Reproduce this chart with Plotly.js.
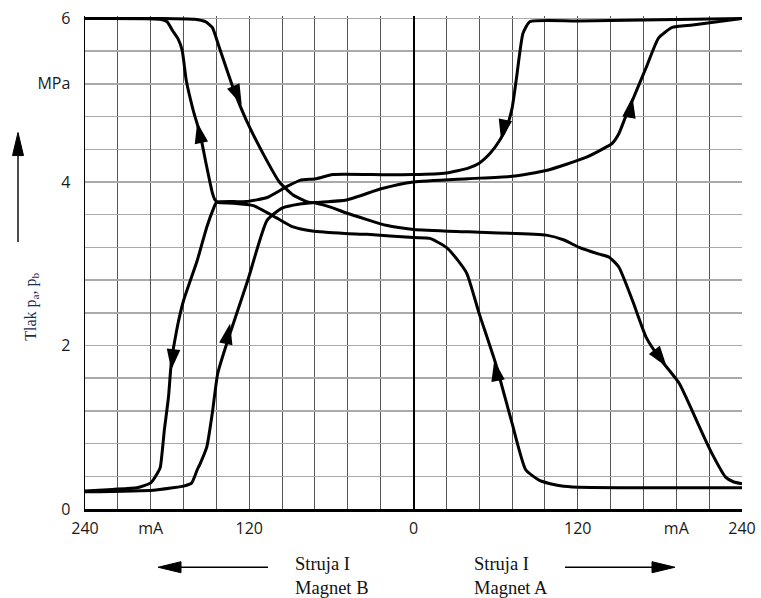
<!DOCTYPE html>
<html>
<head>
<meta charset="utf-8">
<script src="https://cdn.plot.ly/plotly-3.0.1.min.js"></script>
<style>html,body{margin:0;padding:0;background:#fff;}#chart{width:761px;height:598px;}</style>
</head>
<body>
<div id="chart"></div>
<script>
// Current in mA: negative = Magnet B side, positive = Magnet A side
const xTickVals = [-240, -192, -120, 0, 120, 192, 240];
const xTickText = ['240', 'mA', '120', '0', '120', 'mA', '240'];
const yTickVals = [0, 2, 4, 5.2, 6];
const yTickText = ['0', '2', '4', 'MPa', '6'];

// Curve P (starts 6 MPa left, ends low right)
const xP = [-240, -185, -160, -152, -147, -142, -132, -122, -110, -98, -88, -78, -71, -60, -49, -34, -20, 0, 40, 97, 110, 121, 135, 143, 150, 160, 170, 180, 194, 209, 218, 228, 234, 240];
const yP = [6.0, 6.0, 5.99, 5.96, 5.89, 5.65, 5.16, 4.75, 4.35, 4.0, 3.84, 3.76, 3.74, 3.69, 3.62, 3.54, 3.47, 3.42, 3.39, 3.35, 3.29, 3.2, 3.12, 3.08, 2.96, 2.55, 2.1, 1.84, 1.54, 1.0, 0.68, 0.39, 0.33, 0.31];

// Curve Q
const xQ = [-240, -185, -180, -176, -172, -169, -166, -161, -156, -151, -147, -145, -143, -132, -117, -100, -88, -74, -50, -34, 0, 12, 24, 32, 39, 48, 60, 72, 82, 92, 105, 116, 160, 240];
const yQ = [6.0, 5.99, 5.96, 5.85, 5.75, 5.61, 5.24, 4.88, 4.59, 4.18, 3.87, 3.78, 3.75, 3.74, 3.71, 3.56, 3.45, 3.40, 3.37, 3.36, 3.32, 3.31, 3.2, 3.05, 2.88, 2.39, 1.78, 1.05, 0.48, 0.35, 0.29, 0.27, 0.26, 0.26];

// Curve R
const xR = [-240, -220, -202, -192, -187, -185, -182, -179, -177, -173, -168, -158, -151, -146, -144, -132, -122, -107, -93, -83, -71, -59, -30, 0, 24, 40, 48, 56, 63, 68, 72, 75, 80, 85, 120, 240];
const yR = [0.22, 0.24, 0.26, 0.32, 0.44, 0.51, 0.97, 1.37, 1.78, 2.19, 2.55, 3.04, 3.45, 3.68, 3.75, 3.76, 3.76, 3.81, 3.94, 4.02, 4.04, 4.09, 4.09, 4.09, 4.11, 4.17, 4.23, 4.35, 4.51, 4.67, 4.9, 5.24, 5.82, 5.96, 5.97, 6.0];

// Curve S
const xS = [-240, -190, -176, -168, -162, -158, -156, -151, -147, -143, -134, -121, -107, -96, -83, -71, -49, -23, 0, 40, 72, 97, 126, 140, 145, 150, 155, 160, 170, 179, 189, 204, 240];
const yS = [0.21, 0.23, 0.26, 0.28, 0.32, 0.48, 0.55, 0.76, 1.17, 1.66, 2.15, 2.8, 3.53, 3.68, 3.73, 3.75, 3.78, 3.92, 4.0, 4.04, 4.07, 4.14, 4.30, 4.42, 4.47, 4.59, 4.8, 5.0, 5.40, 5.76, 5.89, 5.92, 6.0];

// Direction arrows on curves: tip and a point just behind it
const arrowTipX = [-125.5, -158, -177, -134, 64, 160, 59, 185];
const arrowTipY = [4.94, 4.73, 1.70, 2.27, 4.51, 5.04, 1.82, 1.74];
const arrowBackX = [-135, -154, -175, -138, 67, 157, 62, 178];
const arrowBackY = [5.3, 4.4, 2.0, 1.95, 4.75, 4.75, 1.55, 1.9];

const curveLine = {color: '#000', width: 3, shape: 'spline', smoothing: 0.5};
const traces = [
  {x: xP, y: yP, mode: 'lines', line: curveLine, hoverinfo: 'skip'},
  {x: xQ, y: yQ, mode: 'lines', line: curveLine, hoverinfo: 'skip'},
  {x: xR, y: yR, mode: 'lines', line: curveLine, hoverinfo: 'skip'},
  {x: xS, y: yS, mode: 'lines', line: curveLine, hoverinfo: 'skip'}
];
for (let i = 0; i < arrowTipX.length; i++) {
  traces.push({
    x: [arrowBackX[i], arrowTipX[i]], y: [arrowBackY[i], arrowTipY[i]],
    mode: 'markers', hoverinfo: 'skip', cliponaxis: false,
    marker: {symbol: 'arrow', angleref: 'previous', size: [0, 22], opacity: [0, 1], color: '#000', line: {width: 0}}
  });
}

// Decorative arrows outside the plot (paper coordinates)
const pw = 657, ph = 491; // plot size in px for converting offsets
function px2x(p) { return (p - 85) / pw; }
function py2y(p) { return (509 - p) / ph; }
function arrowShapes(x0, y0, x1, y1) { // tail (x0,y0) -> tip (x1,y1), pixels
  const len = 23, hw = 5.5;
  const dx = x1 - x0, dy = y1 - y0, d = Math.hypot(dx, dy);
  const ux = dx / d, uy = dy / d;
  const bx = x1 - ux * len, by = y1 - uy * len;
  const lx = bx - uy * hw, ly = by + ux * hw, rx = bx + uy * hw, ry = by - ux * hw;
  return [
    {type: 'line', xref: 'paper', yref: 'paper', x0: px2x(x0), y0: py2y(y0), x1: px2x(bx), y1: py2y(by),
     line: {color: '#000', width: 1.4}},
    {type: 'path', xref: 'paper', yref: 'paper', fillcolor: '#000', line: {color: '#000', width: 1},
     path: 'M' + px2x(x1) + ',' + py2y(y1) + ' L' + px2x(lx) + ',' + py2y(ly) + ' L' + px2x(rx) + ',' + py2y(ry) + ' Z'}
  ];
}
const shapes = [].concat(
  arrowShapes(18, 243, 18, 134),
  arrowShapes(268, 567, 158, 567),
  arrowShapes(565, 567, 675, 567)
);

const serif = 'Liberation Serif, Times New Roman, serif';
const layout = {
  width: 761, height: 598,
  margin: {l: 85, r: 19, t: 16, b: 89},
  paper_bgcolor: '#fff', plot_bgcolor: '#fff',
  showlegend: false,
  font: {family: 'Open Sans, sans-serif', size: 16, color: '#1a1a1a'},
  xaxis: {
    range: [-240, 240], tickmode: 'array', tickvals: xTickVals, ticktext: xTickText,
    ticks: 'outside', ticklen: 3, tickcolor: 'rgba(0,0,0,0)',
    showgrid: true, gridcolor: '#555', gridwidth: 1,
    minor: {tickmode: 'linear', tick0: -240, dtick: 24, showgrid: true, gridcolor: '#555', gridwidth: 1, ticks: ''},
    zeroline: true, zerolinecolor: '#000', zerolinewidth: 2,
    showline: true, linecolor: '#000', linewidth: 2.5, fixedrange: true
  },
  yaxis: {
    range: [0, 6.03], tickmode: 'array', tickvals: yTickVals, ticktext: yTickText,
    ticks: 'outside', ticklen: 10, tickcolor: 'rgba(0,0,0,0)',
    showgrid: true, gridcolor: '#aaa', gridwidth: 1.5,
    minor: {tickmode: 'linear', tick0: 0, dtick: 0.4, showgrid: true, gridcolor: '#aaa', gridwidth: 1.5, ticks: ''},
    zeroline: false,
    showline: true, linecolor: '#000', linewidth: 1.5, fixedrange: true
  },
  shapes: shapes,
  annotations: [
    {xref: 'paper', yref: 'paper', x: -0.099, y: 0.411, text: 'Tlak p<sub>a</sub>, p<sub>b</sub>', textangle: -90,
     showarrow: false, font: {family: serif, size: 16, color: '#1f2d4d'}},
    {xref: 'paper', yref: 'paper', x: 0.3166, y: -0.1365, xanchor: 'left', yanchor: 'middle', align: 'left',
     text: 'Struja I<br>Magnet B', showarrow: false, font: {family: serif, size: 18.5, color: '#111'}},
    {xref: 'paper', yref: 'paper', x: 0.589, y: -0.1365, xanchor: 'left', yanchor: 'middle', align: 'left',
     text: 'Struja I<br>Magnet A', showarrow: false, font: {family: serif, size: 18.5, color: '#111'}}
  ]
};
Plotly.newPlot('chart', traces, layout, {displayModeBar: false, staticPlot: true});
</script>
</body>
</html>
